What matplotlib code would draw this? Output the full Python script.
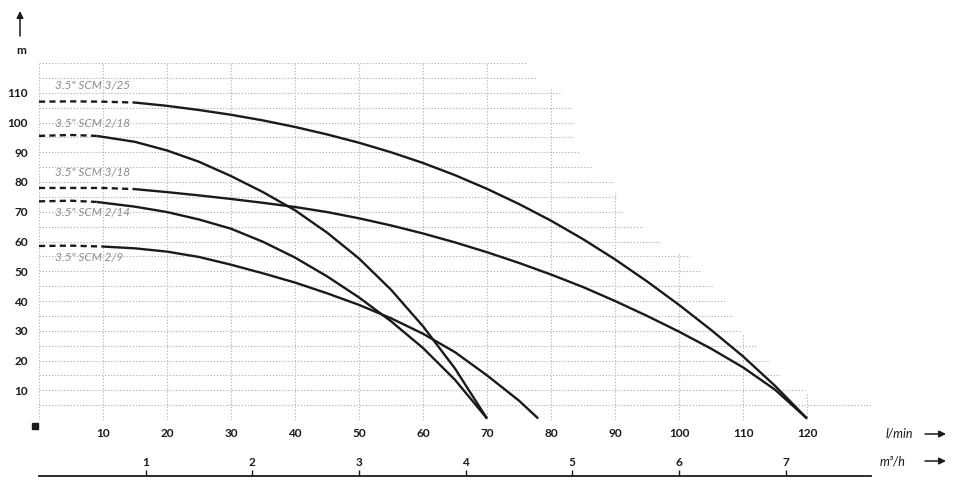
import matplotlib
matplotlib.use("Agg")
import matplotlib.pyplot as plt
from matplotlib.patches import FancyArrowPatch

# flow (l/min) and head (m)
q_325 = [0, 5, 10, 15, 20, 25, 30, 35, 40, 45, 50, 55, 60, 65, 70, 75, 80, 85, 90, 95, 100, 105, 110, 115, 120]
h_325 = [107, 107.1, 107, 106.7, 105.6, 104.2, 102.6, 100.7, 98.5, 96, 93.2, 90, 86.4, 82.3, 77.7, 72.6, 67,
         60.8, 54, 46.6, 38.7, 30.3, 21.4, 11.5, 0.5]

q_318 = [0, 5, 10, 15, 20, 25, 30, 35, 40, 45, 50, 55, 60, 65, 70, 75, 80, 85, 90, 95, 100, 105, 110, 115, 120]
h_318 = [78, 78, 78, 77.6, 76.6, 75.5, 74.3, 73, 71.6, 69.9, 67.8, 65.4, 62.7, 59.7, 56.4, 52.8, 48.9, 44.7,
         40, 35, 29.7, 24, 17.7, 10.2, 0.5]

q_218 = [0, 5, 9, 15, 20, 25, 30, 35, 40, 45, 50, 55, 60, 65, 70]
h_218 = [95.5, 95.8, 95.5, 93.5, 90.6, 86.8, 82, 76.6, 70.5, 63, 54.3, 43.8, 31.5, 17.3, 0.5]

q_214 = [0, 5, 9, 15, 20, 25, 30, 35, 40, 45, 50, 55, 60, 65, 70]
h_214 = [73.5, 73.7, 73.3, 71.7, 69.9, 67.4, 64.3, 59.9, 54.6, 48.3, 41.2, 33.2, 24.2, 13.5, 0.5]

q_29 = [0, 5, 10, 15, 20, 25, 30, 35, 40, 45, 50, 55, 60, 65, 70, 75, 78]
h_29 = [58.5, 58.6, 58.3, 57.7, 56.6, 54.8, 52.2, 49.3, 46.2, 42.6, 38.7, 34.2, 29, 22.8, 15, 6.5, 0.5]

models = ['3.5" SCM 3/25', '3.5" SCM 2/18', '3.5" SCM 3/18', '3.5" SCM 2/14', '3.5" SCM 2/9']
dash_end = [15, 9, 15, 9, 10]          # curve is dashed below this flow
label_h = [112.5, 99.7, 83.2, 69.7, 54.5]

x_ticks = [10, 20, 30, 40, 50, 60, 70, 80, 90, 100, 110, 120]
y_ticks = [10, 20, 30, 40, 50, 60, 70, 80, 90, 100, 110]
m3h_ticks = [1, 2, 3, 4, 5, 6, 7]
LPM_PER_M3H = 1000 / 60

# stepped grid: right end of each horizontal line, top of each vertical line
grid_h = list(range(0, 125, 5))
grid_h_end = [130, 130, 119.7, 115.8, 113.9, 112.2, 109.8, 108.3, 107.2, 105.3, 103.6, 101.7, 97,
              94.4, 91.4, 90.3, 89.7, 86.6, 84.5, 83.4, 83.4, 83.3, 81.4, 77.8, 76.2]
grid_q = list(range(0, 140, 10))
grid_q_top = [120, 120, 120, 120, 120, 120, 120, 120, 111.4, 76.8, 56, 29.3, 9.4, 5]

INK = '#1a1a1a'
plt.rcParams['font.family'] = ['Lato', 'DejaVu Sans']

fig = plt.figure(figsize=(9.59, 4.83), dpi=100)
W, H = 959, 483
x0, x1, y0, y1 = 39, 871, 420, 63
ax = fig.add_axes([x0 / W, 1 - y0 / H, (x1 - x0) / W, (y0 - y1) / H])
ax.set_xlim(0, 130)
ax.set_ylim(0, 120)
for s in ax.spines.values():
    s.set_visible(False)

# grid
gstyle = dict(color='#b8b8b8', lw=0.8, ls=(0, (1.2, 1.6)), zorder=1)
for h, e in zip(grid_h, grid_h_end):
    ax.plot([0, e], [h, h], **gstyle)
for q, t in zip(grid_q, grid_q_top):
    ax.plot([q, q], [0, t], **gstyle)

# curves
curves = [(q_325, h_325), (q_218, h_218), (q_318, h_318), (q_214, h_214), (q_29, h_29)]
for (q, h), d, name, lh in zip(curves, dash_end, models, label_h):
    qd = [a for a in q if a <= d]
    ax.plot(qd, h[:len(qd)], color=INK, lw=1.7, ls=(0, (2.6, 1.8)), zorder=3)
    i = len(qd) - 1
    ax.plot(q[i:], h[i:], color=INK, lw=1.7, zorder=3, solid_capstyle='butt', solid_joinstyle='round')
    ax.text(2.5, lh, name, fontsize=8.5, style='italic', color='#8c8c8c', va='center', ha='left')

ax.set_xticks(x_ticks)
ax.set_yticks(y_ticks)
ax.tick_params(length=0, labelsize=8.5, labelcolor=INK)
ax.tick_params(axis='x', pad=6)
ax.tick_params(axis='y', pad=8)
for lab in ax.get_xticklabels() + ax.get_yticklabels():
    lab.set_fontweight('bold')

# small square at origin
ax.plot([-0.6], [-2], marker='s', ms=5, color=INK, clip_on=False)

# second axis in m3/h
ax2 = fig.add_axes([x0 / W, 1 - 476 / H, (x1 - x0) / W, 0.0001])
ax2.set_xlim(0, 130 / LPM_PER_M3H)
ax2.set_yticks([])
for k in ['left', 'right', 'bottom']:
    ax2.spines[k].set_visible(False)
ax2.spines['top'].set_linewidth(1.3)
ax2.spines['top'].set_color(INK)
ax2.patch.set_visible(False)
ax2.xaxis.set_ticks_position('top')
ax2.xaxis.set_label_position('top')
ax2.set_xticks(m3h_ticks)
ax2.tick_params(axis='x', direction='out', length=4, width=1, color=INK, labelsize=8.5,
                labelcolor=INK, pad=2)
for lab in ax2.get_xticklabels():
    lab.set_fontweight('bold')

# unit labels and arrows
fig.text(899 / W, 1 - 434 / H, 'l/min', fontsize=9, style='italic', color=INK, ha='center', va='center')
fig.text(893 / W, 1 - 461 / H, 'm³/h', fontsize=9, style='italic', color=INK, ha='center', va='center')
arrow = dict(arrowstyle='-|>', color=INK, lw=1.1, mutation_scale=10, shrinkA=0, shrinkB=0)
for yy in (434, 461):
    fig.add_artist(FancyArrowPatch((925 / W, 1 - yy / H), (946 / W, 1 - yy / H),
                                   transform=fig.transFigure, **arrow))
fig.add_artist(FancyArrowPatch((20 / W, 1 - 36 / H), (20 / W, 1 - 11 / H),
                               transform=fig.transFigure, **arrow))
fig.text(21 / W, 1 - 51 / H, 'm', fontsize=8.5, fontweight='bold', color=INK, ha='center', va='center')

fig.savefig('out.png', dpi=100)
